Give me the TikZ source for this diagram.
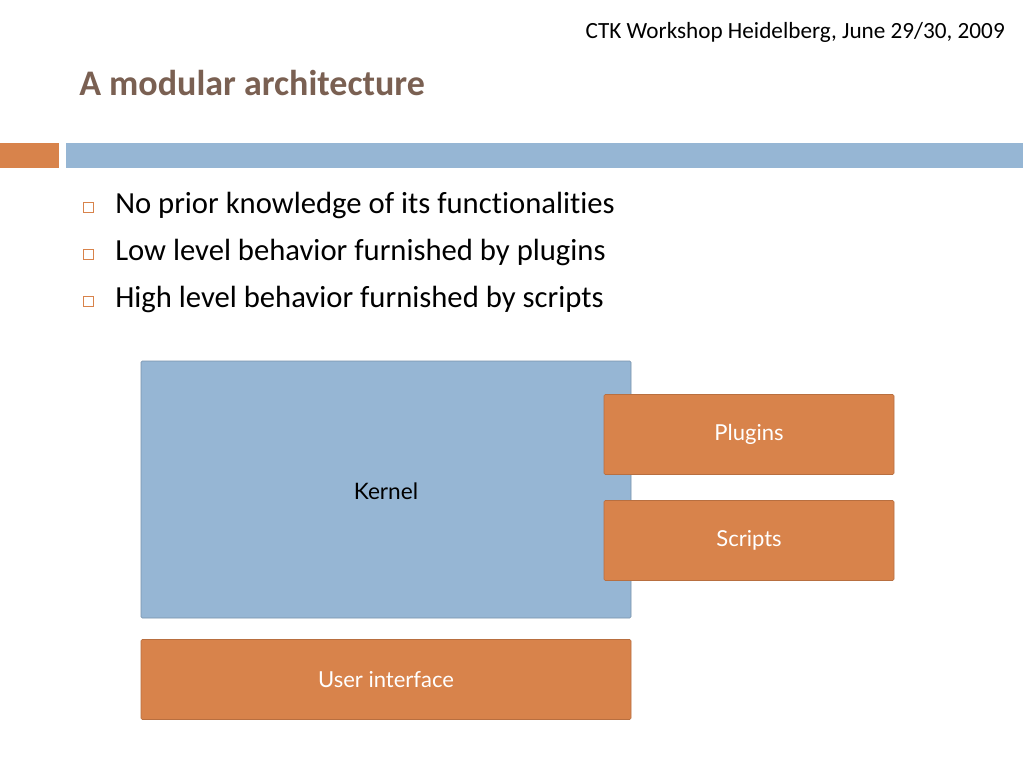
\documentclass[tikz,border=0pt]{standalone}
\usepackage{fontspec}
\setmainfont[Ligatures=CommonOff]{Carlito}
\newfontfamily\boxfont{Lato}
\usetikzlibrary{positioning}
\definecolor{slideorange}{RGB}{216,131,75}
\definecolor{slideblue}{RGB}{150,182,212}
\definecolor{titlebrown}{RGB}{122,96,82}
\begin{document}
\begin{tikzpicture}[
   x=0.75pt, y=-0.75pt,
   block/.style={
       rectangle, rounded corners=1pt, inner sep=0pt,
       font=\boxfont\fontsize{16.5}{19}\selectfont
   },
   orangeblock/.style={block, fill=slideorange, draw=slideorange!85!black, line width=0.4pt,
       text=white, minimum width=217.5pt, minimum height=60pt},
   bulletbox/.style={rectangle, draw=slideorange, line width=0.5pt, fill=white,
       minimum size=7.5pt, inner sep=0pt},
   bullettext/.style={anchor=base west, inner sep=0pt, font=\fontsize{23}{27}\selectfont}
  ]
  \useasboundingbox [fill=white] (0,0) rectangle (1023,767);
  % header
  \node [anchor=base east, inner sep=0pt, font=\fontsize{17.4}{20}\selectfont] (header) at (1005,39) {CTK Workshop Heidelberg, June 29/30, 2009};
  \node [anchor=base west, inner sep=0pt, text=titlebrown, font=\bfseries\fontsize{27}{32}\selectfont] (title) at (79,95) {A modular architecture};
  \fill [slideorange] (0,143) rectangle (59,168);
  \fill [slideblue] (66,143) rectangle (1023,168);
  % bullets
  \foreach \i/\txt in {1/No prior knowledge of its functionalities,
                       2/Low level behavior furnished by plugins,
                       3/High level behavior furnished by scripts} {
     \node [bulletbox] (bullet-\i) at (88,160+47*\i) {};
     \node [bullettext] (item-\i) at (115,166+47*\i) {\txt};
  }
  % architecture
  \node [block, fill=slideblue, draw=slideblue!80!black, line width=0.4pt,
         minimum width=367.5pt, minimum height=192.75pt] (kernel) at (386,489.5) {};
  \node [font=\boxfont\fontsize{17}{20}\selectfont, inner sep=0pt] (kernel label) at (386,491) {Kernel};
  \node [orangeblock] (plugins) at (749,434.5) {Plugins};
  \node [orangeblock] (scripts) at (749,540.5) {Scripts};
  \node [orangeblock, minimum width=367.5pt] (ui) at (386,679.5) {User interface};
\end{tikzpicture}
\end{document}
